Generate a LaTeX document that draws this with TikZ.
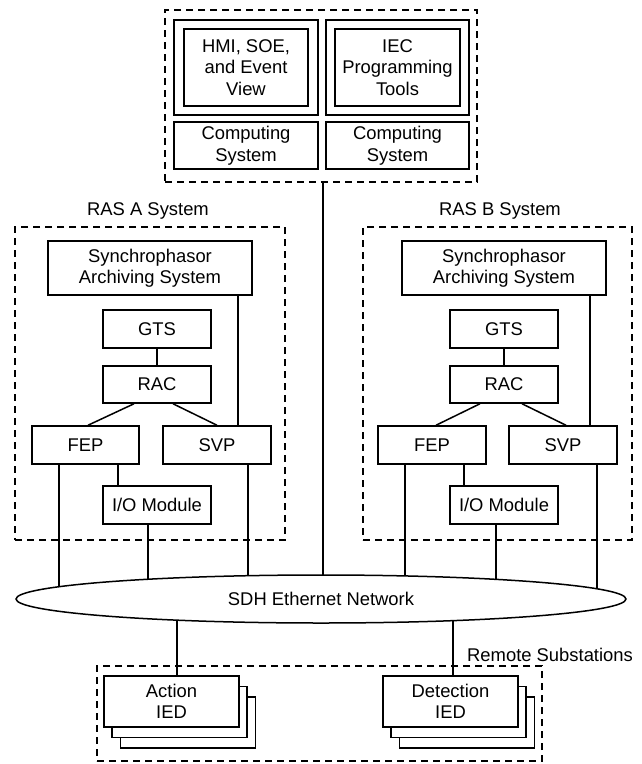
\documentclass[tikz,border=0pt]{standalone}
\usepackage{fontspec}
\setmainfont{Liberation Sans}
\usetikzlibrary{shapes.geometric,calc,backgrounds}
\begin{document}
\begin{tikzpicture}[x=1pt,y=-1pt,
  font=\fontsize{18.4}{21.5}\selectfont,
  box/.style={draw, line width=1.5pt, fill=white, inner sep=0pt, align=center},
  grp/.style={draw, line width=1.4pt, dash pattern=on 7pt off 5pt, inner sep=0pt},
  wire/.style={line width=1.5pt},
  lbl/.style={inner sep=0pt}]
\useasboundingbox (0,0) rectangle (642,764);

% ---- top operator area
\node[grp, minimum width=312pt, minimum height=172pt] (top) at (321,96) {};
\node[box, minimum width=144pt, minimum height=95pt] (mon1) at (246,67.5) {};
\node[box, minimum width=124pt, minimum height=77pt] (hmi) at (246,67.5) {HMI, SOE,\\and Event\\View};
\node[box, minimum width=143pt, minimum height=95pt] (mon2) at (397.5,67.5) {};
\node[box, minimum width=125pt, minimum height=77pt] (iec) at (397.5,67.5) {IEC\\Programming\\Tools};
\node[box, minimum width=144pt, minimum height=47pt] (comp1) at (246,145.5) {Computing\\System};
\node[box, minimum width=143pt, minimum height=47pt] (comp2) at (397.5,145.5) {Computing\\System};

% ---- RAS A
\node[lbl] (labA) at (148,211) {RAS A System};
\node[grp, minimum width=270pt, minimum height=313pt] (rasA) at (150,383.5) {};
\node[box, minimum width=204pt, minimum height=54pt] (synA) at (150,268) {Synchrophasor\\Archiving System};
\node[box, minimum width=108pt, minimum height=38pt] (gtsA) at (157,329) {GTS};
\node[box, minimum width=108pt, minimum height=37pt] (racA) at (157,384.5) {RAC};
\node[box, minimum width=107pt, minimum height=38pt] (fepA) at (85.5,445) {FEP};
\node[box, minimum width=108pt, minimum height=38pt] (svpA) at (217,445) {SVP};
\node[box, minimum width=108pt, minimum height=38pt] (ioA) at (157,505) {I/O Module};

% ---- RAS B
\node[lbl] (labB) at (500,211) {RAS B System};
\node[grp, minimum width=269pt, minimum height=313pt] (rasB) at (497.5,383.5) {};
\node[box, minimum width=204pt, minimum height=54pt] (synB) at (504,268) {Synchrophasor\\Archiving System};
\node[box, minimum width=108pt, minimum height=38pt] (gtsB) at (504,329) {GTS};
\node[box, minimum width=108pt, minimum height=37pt] (racB) at (504,384.5) {RAC};
\node[box, minimum width=108pt, minimum height=38pt] (fepB) at (432,445) {FEP};
\node[box, minimum width=108pt, minimum height=38pt] (svpB) at (563,445) {SVP};
\node[box, minimum width=108pt, minimum height=38pt] (ioB) at (504,505) {I/O Module};

% ---- network
\node[draw, ellipse, line width=1.5pt, fill=white, inner sep=0pt,
      minimum width=610pt, minimum height=48pt] (net) at (321,599) {SDH Ethernet Network};

% ---- remote substations
\node[lbl, anchor=west] (labR) at (467,655) {Remote Substations};
\node[grp, minimum width=445pt, minimum height=95pt] (rem) at (319.5,713.5) {};
\node[box, minimum width=135pt, minimum height=51pt] (act3) at (188,722.5) {};
\node[box, minimum width=135pt, minimum height=51pt] (act2) at (179.5,712) {};
\node[box, minimum width=135pt, minimum height=51pt] (act) at (171.5,701.5) {Action\\IED};
\node[box, minimum width=135pt, minimum height=51pt] (det3) at (467,722.5) {};
\node[box, minimum width=135pt, minimum height=51pt] (det2) at (458.5,712) {};
\node[box, minimum width=135pt, minimum height=51pt] (det) at (450.5,701.5) {Detection\\IED};

% ---- internal connectors
\draw[wire] (gtsA.south) -- (racA.north);
\draw[wire] ($(racA.south)+(-23,0)$) -- ($(fepA.north)+(2.5,0)$);
\draw[wire] ($(racA.south)+(16,0)$) -- (svpA.north);
\coordinate (sa) at ($(synA.south)+(88,0)$);
\draw[wire] (sa) -- (sa |- svpA.north);
\coordinate (fa) at ($(fepA.south)+(32.5,0)$);
\draw[wire] (fa) -- (fa |- ioA.north);

\draw[wire] (gtsB.south) -- (racB.north);
\draw[wire] ($(racB.south)+(-24,0)$) -- ($(fepB.north)+(4,0)$);
\draw[wire] ($(racB.south)+(18,0)$) -- ($(svpB.north)+(3,0)$);
\coordinate (sb) at ($(synB.south)+(86,0)$);
\draw[wire] (sb) -- (sb |- svpB.north);
\coordinate (fb) at ($(fepB.south)+(32,0)$);
\draw[wire] (fb) -- (fb |- ioB.north);

% ---- connectors to the network (behind the ellipse)
\begin{scope}[on background layer]
  \coordinate (n1) at ($(fepA.south)+(-26.5,0)$);
  \coordinate (n2) at ($(ioA.south)+(-9,0)$);
  \coordinate (n3) at ($(svpA.south)+(31,0)$);
  \coordinate (n4) at ($(top.south)+(2,0)$);
  \coordinate (n5) at ($(fepB.south)+(-27,0)$);
  \coordinate (n6) at ($(ioB.south)+(-8,0)$);
  \coordinate (n7) at ($(svpB.south)+(34,0)$);
  \foreach \c in {n1,n2,n3,n4,n5,n6,n7}
    \draw[wire] (\c) -- (\c |- net.center);
  \coordinate (m1) at ($(act.north)+(5.5,0)$);
  \coordinate (m2) at ($(det.north)+(2.5,0)$);
  \draw[wire] (m1 |- net.center) -- (m1);
  \draw[wire] (m2 |- net.center) -- (m2);
\end{scope}
\end{tikzpicture}
\end{document}
